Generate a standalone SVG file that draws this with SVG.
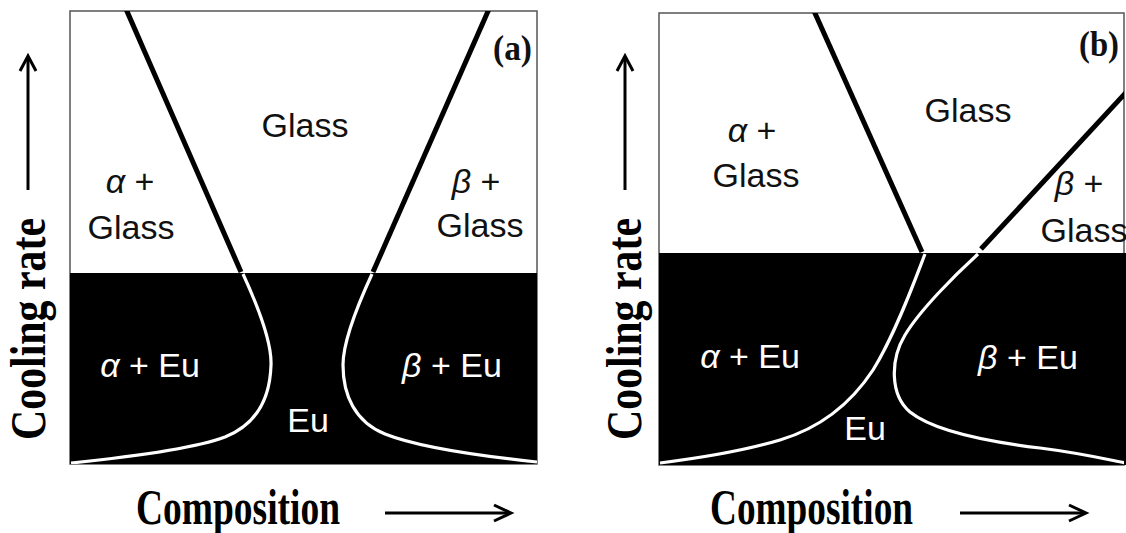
<svg xmlns="http://www.w3.org/2000/svg" width="1126" height="533" viewBox="0 0 1126 533">
<style>
.box{fill:#fff;stroke:#555;stroke-width:1.5}
.dark{fill:#000}
.bl{fill:none;stroke:#000;stroke-width:5;stroke-linecap:butt}
.wl{fill:none;stroke:#fff;stroke-width:3.2}
.ax{fill:none;stroke:#000;stroke-width:3}
.lbl{font-family:"Liberation Sans",Arial,sans-serif;font-size:34px;text-anchor:middle}
.k{fill:#111}
.w{fill:#fff}
.g{font-style:italic}
.axt{font-family:"Liberation Serif","Times New Roman",serif;font-weight:bold;font-size:50px;fill:#000}
.pl{font-family:"Liberation Serif","Times New Roman",serif;font-weight:bold;font-size:36px;fill:#111}
</style>
<defs>
<clipPath id="ca"><rect x="70" y="11" width="467" height="453"/></clipPath>
<clipPath id="cb"><rect x="659" y="13" width="465" height="452"/></clipPath>
</defs>
<g id="panel-a">
  <rect class="box" x="70" y="11" width="467" height="453"/>
  <rect class="dark" x="70" y="273" width="467" height="191"/>
  <g id="connectors-a" clip-path="url(#ca)">
    <line class="bl" x1="126" y1="9" x2="241" y2="272"/>
    <line class="bl" x1="489" y1="9" x2="373" y2="272"/>
    <path class="wl" d="M243,274 C255,300 272,340 271,365 C270,400 255,425 225,437 C190,450 120,458 71,463"/>
    <path class="wl" d="M372,274 C360,300 343,340 343,365 C343,395 355,422 385,434 C420,448 480,456 537,462"/>
  </g>
  <g id="labels-a" class="lbl">
    <text class="k" x="305" y="137">Glass</text>
    <text class="k" x="130" y="193"><tspan class="g">α</tspan> +</text>
    <text class="k" x="131" y="239">Glass</text>
    <text class="k" x="476" y="193"><tspan class="g">β</tspan> +</text>
    <text class="k" x="480" y="237">Glass</text>
    <text class="w" x="150" y="377"><tspan class="g">α</tspan> + Eu</text>
    <text class="w" x="452" y="377"><tspan class="g">β</tspan> + Eu</text>
    <text class="w" x="308" y="432">Eu</text>
  </g>
  <text id="tag-a" class="pl" x="493" y="60" textLength="39" lengthAdjust="spacingAndGlyphs">(a)</text>
</g>
<g id="axes-a">
  <line class="ax" x1="28" y1="190" x2="28" y2="57"/>
  <polyline class="ax" points="20,71 28,56 36,71"/>
  <text class="axt" transform="translate(45,440) rotate(-90)" textLength="222" lengthAdjust="spacingAndGlyphs">Cooling rate</text>
  <text class="axt" x="136" y="524" textLength="204" lengthAdjust="spacingAndGlyphs">Composition</text>
  <line class="ax" x1="385" y1="513" x2="510" y2="513"/>
  <polyline class="ax" points="494,505 511,513 494,521"/>
</g>
<g id="panel-b">
  <rect class="box" x="659" y="13" width="465" height="452"/>
  <rect class="dark" x="659" y="253" width="467" height="212"/>
  <g id="connectors-b" clip-path="url(#cb)">
    <line class="bl" x1="814" y1="11" x2="922" y2="252"/>
    <line class="bl" x1="1132" y1="86" x2="981" y2="249"/>
    <path class="wl" d="M925,254 C915,280 895,335 873,370 C850,405 820,428 780,440 C740,452 700,458 660,463"/>
    <path class="wl" d="M978,254 C955,275 920,310 905,335 C890,360 890,395 910,412 C935,432 990,442 1040,448 C1080,453 1110,460 1126,463"/>
  </g>
  <g id="labels-b" class="lbl">
    <text class="k" x="968" y="122">Glass</text>
    <text class="k" x="752" y="142"><tspan class="g">α</tspan> +</text>
    <text class="k" x="756" y="187">Glass</text>
    <text class="k" x="1079" y="195"><tspan class="g">β</tspan> +</text>
    <text class="k" x="1084" y="242">Glass</text>
    <text class="w" x="750" y="368"><tspan class="g">α</tspan> + Eu</text>
    <text class="w" x="1028" y="369"><tspan class="g">β</tspan> + Eu</text>
    <text class="w" x="865" y="440">Eu</text>
  </g>
  <text id="tag-b" class="pl" x="1079" y="56" textLength="40" lengthAdjust="spacingAndGlyphs">(b)</text>
</g>
<g id="axes-b">
  <line class="ax" x1="625" y1="190" x2="625" y2="57"/>
  <polyline class="ax" points="617,71 625,56 633,71"/>
  <text class="axt" transform="translate(641,440) rotate(-90)" textLength="222" lengthAdjust="spacingAndGlyphs">Cooling rate</text>
  <text class="axt" x="710" y="524" textLength="203" lengthAdjust="spacingAndGlyphs">Composition</text>
  <line class="ax" x1="960" y1="513" x2="1085" y2="513"/>
  <polyline class="ax" points="1069,505 1086,513 1069,521"/>
</g>
</svg>
